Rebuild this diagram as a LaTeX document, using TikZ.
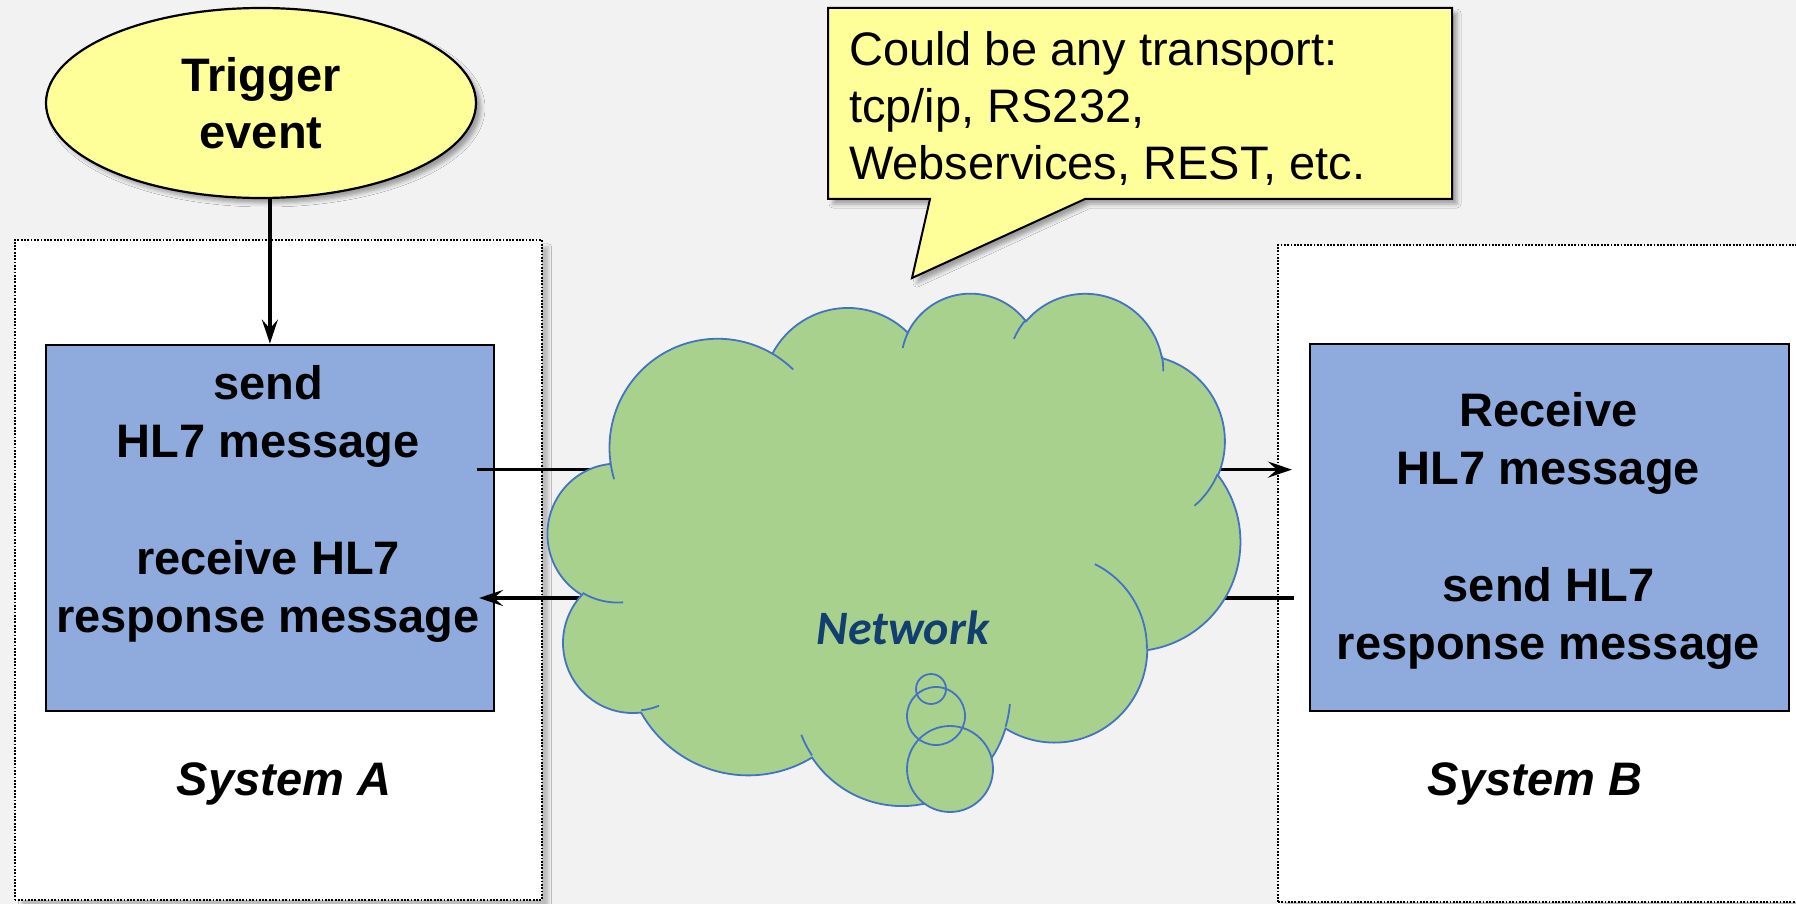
\documentclass[tikz,border=0pt]{standalone}
\usepackage{fontspec}
\setmainfont{Liberation Sans}
\newfontfamily\netfont{Carlito}
\usetikzlibrary{arrows.meta,shadows.blur,shapes.geometric,calc}
\definecolor{bg}{HTML}{F2F2F2}
\definecolor{boxblue}{HTML}{8FAADC}
\definecolor{note}{HTML}{FFFF99}
\definecolor{cloudfill}{HTML}{A9D18E}
\definecolor{cloudline}{HTML}{4472C4}
\definecolor{netblue}{HTML}{123E70}
\newcommand\oopar[3]{(atan2((#1)*sin(#3),(#2)*cos(#3))+360*round(((#3)-atan2((#1)*sin(#3),(#2)*cos(#3)))/360))}
\newcommand\ooarc[4]{arc[x radius=#1, y radius=#2, start angle={\oopar{#1}{#2}{#3}}, end angle={\oopar{#1}{#2}{#4}}]}
\begin{document}
\begin{tikzpicture}[x=1pt,y=-1pt,
  font=\fontsize{47}{57}\selectfont,
  boldtext/.style={font=\fontsize{47}{58.4}\selectfont\bfseries},
  container/.style={draw=black, line width=1.8pt, dash pattern=on 1.8pt off 1.5pt, fill=white,
     blur shadow={shadow xshift=7pt, shadow yshift=-7pt, shadow blur radius=3pt, shadow opacity=22}},
  msgbox/.style={draw=black, line width=2.4pt, fill=boxblue, inner sep=0pt, anchor=north west},
  arr/.style={line width=3.6pt, -{Stealth[length=24pt,width=16pt,inset=9pt]}},
  cloudsty/.style={fill=cloudfill, draw=cloudline, line width=1.8pt},
  cloudedge/.style={draw=cloudline, line width=1.8pt},
  softshadow/.style={blur shadow={shadow xshift=5pt, shadow yshift=-5pt, shadow blur radius=4pt, shadow opacity=35}},
]
\fill[bg] (0,0) rectangle (1796,904);
\useasboundingbox (0,0) rectangle (1796,904);

% system containers
\node[container, anchor=north west, inner sep=0pt, minimum width=527pt, minimum height=660pt] (sysA) at (13.7,239) {};
\node[container, anchor=north west, inner sep=0pt, minimum width=540pt, minimum height=657pt] (sysB) at (1277,244) {};

% message boxes
\node[msgbox, minimum width=448pt, minimum height=366.4pt] (boxA) at (44.7,343.6) {};
\node[msgbox, minimum width=479pt, minimum height=367.5pt] (boxB) at (1309,342.5) {};

% trigger
\node[ellipse, draw=black, line width=2.2pt, fill=note, softshadow, minimum width=430pt, minimum height=190pt, inner sep=0pt, boldtext, align=center] (trig) at (261,103) {Trigger\\[-1.2pt]event};

% callout
\path[fill=note, draw=black, line width=2pt, softshadow] (828,8) -- (1452,8) -- (1452,199) -- (1085,199) -- (912,278) -- (930,199) -- (828,199) -- cycle;
\node[anchor=west, align=left, inner sep=0pt] (note) at (849,108) {Could be any transport:\\tcp/ip, RS232,\\Webservices, REST, etc.};

% connectors
\coordinate (sendS) at (476.5,469.6);
\coordinate (sendE) at (1292,469.6);
\coordinate (respS) at (1294,598);
\coordinate (respE) at (479,598);
\draw[arr, line width=3.4pt] (trig.south -| boxA.north) -- (boxA.north);
\draw[arr] (sendS) -- (sendE);
\draw[arr] (respS) -- (respE);

% cloud (network)
\begin{scope}[shift={(548,292)}, x=0.016019pt, y=-0.011852pt]
\path[cloudsty] (3900,14370)
  \ooarc{6753}{9190}{-190.48748}{-66.70695}
  \ooarc{5333}{7267}{-144.10238}{-54.15715}
  \ooarc{4365}{5945}{-145.80792}{-46.08490}
  \ooarc{4857}{6595}{-130.98607}{-13.74433}
  \ooarc{5333}{7273}{-78.70888}{30.31803}
  \ooarc{6775}{9220}{-46.26725}{84.00175}
  \ooarc{5785}{7867}{0.62502}{114.65835}
  \ooarc{6752}{9215}{22.45160}{137.62415}
  \ooarc{7720}{10543}{66.24263}{141.95365}
  \ooarc{4360}{5918}{-274.94208}{-128.20652}
  \ooarc{4345}{5945}{-246.82850}{-94.30965}
  -- cycle;
\draw[cloudline, line width=1.8pt]
  (4693,26177) \ooarc{4345}{5945}{86.742}{113.1715}
  (6928,34899) \ooarc{4360}{5918}{73.61047}{85.05793}
  (16478,39090) \ooarc{6752}{9215}{137.62415}{151.70525}
  (28827,34751) \ooarc{6752}{9215}{6.45327}{22.45162}
  (34129,22954) \ooarc{5785}{7867}{-70.29235}{0.62502}
  (41798,15354) \ooarc{5333}{7273}{30.31803}{58.06953}
  (38324,5426) \ooarc{4857}{6595}{-13.74433}{1.11457}
  (29078,3952) \ooarc{4857}{6595}{-149.18145}{-130.98608}
  (22141,4720) \ooarc{4365}{5945}{-163.49427}{-145.53967}
  (14000,5192) \ooarc{6753}{9190}{-66.70695}{-54.3876}
  (4127,15789) \ooarc{6753}{9190}{157.65435}{169.51252};
\end{scope}
% thought-bubble tail
\fill[cloudfill] (950,769) circle[radius=43] (936,716) circle[radius=29] (931,689) circle[radius=15];
\draw[cloudedge] (950,769) circle[radius=43] (936,716) circle[radius=29] (931,689) circle[radius=15];

% texts
\node[boldtext, align=center] (tA) at (268,504) {send\\HL7 message\\[58.4pt]receive HL7\\response message};
\node[boldtext, align=center] (tB) at (1548.5,531) {Receive\\HL7 message\\[58.4pt]send HL7\\response message};
\node[font=\netfont\fontsize{48}{56}\selectfont\bfseries\itshape, text=netblue] (net) at (903,628) {Network};
\node[font=\fontsize{47}{56}\selectfont\bfseries\itshape] (labA) at (284,783.5) {System A};
\node[font=\fontsize{47}{56}\selectfont\bfseries\itshape] (labB) at (1535,783.5) {System B};
\end{tikzpicture}
\end{document}
